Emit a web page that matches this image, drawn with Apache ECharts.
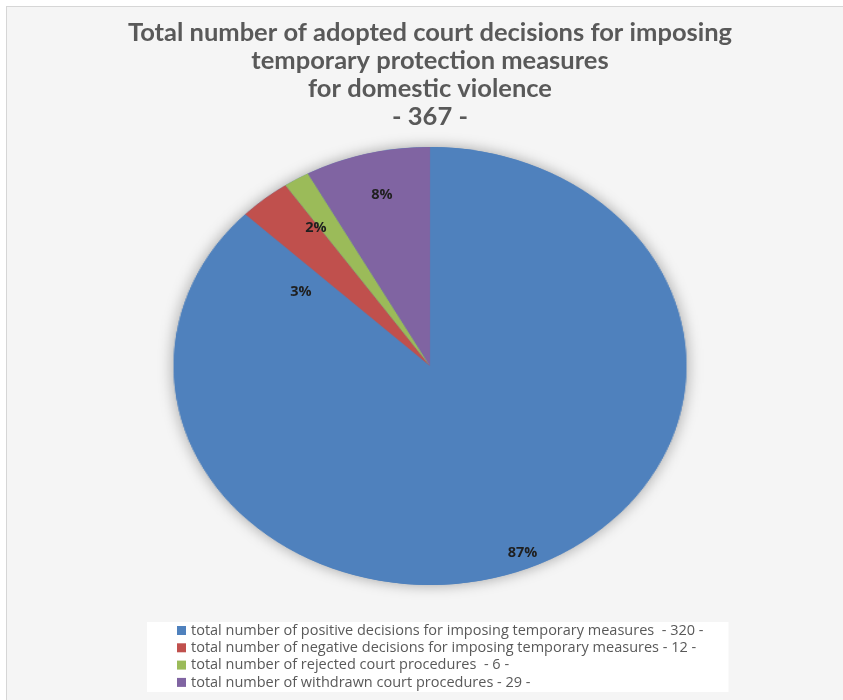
<!DOCTYPE html>
<html>
<head>
<meta charset="utf-8">
<script src="https://cdn.jsdelivr.net/npm/echarts@6/dist/echarts.min.js"></script>
<style>
  html, body { margin: 0; padding: 0; background: #ffffff; width: 843px; height: 700px; overflow: hidden; }
  #frame { position: absolute; left: 6px; top: 6px; width: 860px; height: 720px; background: #f5f5f5;
           border-left: 1px solid #d6d6d6; border-top: 1px solid #d6d6d6; }
  /* the pie is drawn as a circle and widened into an ellipse */
  #pie { position: absolute; left: 129.5px; top: 0; width: 600px; height: 700px;
         transform: scaleX(1.171); transform-origin: 50% 50%; }
  #main { position: absolute; left: 0; top: 0; width: 860px; height: 700px; }
</style>
</head>
<body>
<div id="frame"></div>
<div id="pie"></div>
<div id="main"></div>
<script>
// Court decisions on temporary protection measures for domestic violence
const categories = [
  'total number of positive decisions for imposing temporary measures ',
  'total number of negative decisions for imposing temporary measures',
  'total number of rejected court procedures ',
  'total number of withdrawn court procedures'
];
const values = [320, 12, 6, 29];
const titleLines = [
  'Total number of adopted court decisions for imposing',
  'temporary protection measures',
  'for domestic violence'
];

const colors = ['#4F81BD', '#C0504D', '#9BBB59', '#8064A2'];
// nudges that move each percentage label to its spot inside the pie
const labelOffsets = [[49, 83], [-56, 12], [-55, -42], [-20, -62]];

const total = values.reduce((a, b) => a + b, 0);
const pieData = categories.map((name, i) => ({ name: name, value: values[i] }));

// Slices (stretched horizontally by the container)
const pieChart = echarts.init(document.getElementById('pie'), null, { renderer: 'canvas' });
pieChart.setOption({
  animation: false,
  color: colors,
  series: [
    {
      // soft shadow under the whole pie
      type: 'pie', silent: true, center: ['50%', 366], radius: 219,
      label: { show: false }, labelLine: { show: false },
      itemStyle: { color: '#4F81BD', shadowBlur: 14, shadowColor: 'rgba(0,0,0,0.35)' },
      data: [{ name: 'all', value: total }]
    },
    {
      type: 'pie', silent: true, center: ['50%', 366], radius: 219,
      startAngle: 90, clockwise: true,
      label: { show: false }, labelLine: { show: false },
      itemStyle: { borderWidth: 0 },
      data: pieData
    }
  ]
});

// Title, legend and percentage labels
const mainChart = echarts.init(document.getElementById('main'), null, { renderer: 'canvas' });
mainChart.setOption({
  animation: false,
  color: colors,
  title: {
    text: titleLines.join('\n') + '\n- ' + total + ' -',
    left: 'center', top: 19,
    padding: 0,
    textStyle: { fontFamily: 'Lato', fontWeight: 'bold', fontSize: 25.5, lineHeight: 28, color: '#595959' }
  },
  legend: {
    orient: 'vertical', left: 147, top: 622,
    padding: [0, 25, 1, 30],
    backgroundColor: '#ffffff',
    icon: 'rect', itemWidth: 9, itemHeight: 9, itemGap: 0.3,
    selectedMode: false,
    data: categories.map((name, i) => ({ name: name, itemStyle: { color: colors[i], opacity: 1 } })),
    formatter: name => name + ' - ' + values[categories.indexOf(name)] + ' -',
    textStyle: { fontFamily: 'Open Sans', fontSize: 14.5, lineHeight: 17, color: '#595959' }
  },
  series: [{
    type: 'pie', silent: true, center: [429.5, 366], radius: 219,
    startAngle: 90, clockwise: true, percentPrecision: 0,
    itemStyle: { opacity: 0 },
    labelLine: { show: false },
    label: {
      show: true, position: 'inside', formatter: '{d}%',
      fontFamily: 'Open Sans', fontWeight: 'bold', fontSize: 14.5, color: '#1f1f1f', opacity: 1
    },
    data: pieData.map((d, i) => ({ name: d.name, value: d.value, label: { offset: labelOffsets[i] } }))
  }]
});
</script>
</body>
</html>
